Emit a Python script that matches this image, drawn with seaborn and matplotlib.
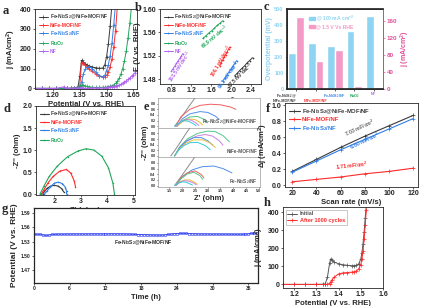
import matplotlib
matplotlib.use("Agg")
import matplotlib.pyplot as plt
from matplotlib.patches import Patch
import seaborn as sns
import numpy as np

sns.set_theme(style="ticks")
plt.rcParams["font.family"] = ["Liberation Sans", "DejaVu Sans"]
plt.rcParams["font.weight"] = "bold"
plt.rcParams["axes.labelweight"] = "bold"
plt.rcParams["mathtext.default"] = "regular"

# ---------------- data ----------------
names = ["Fe-Ni$_3$S$_2$@NiFe-MOF/NF", "NiFe-MOF/NF", "Fe-Ni$_3$S$_2$/NF", "RuO$_2$", "NF"]

# a: LSV curves (potential grid, each curve stops once it leaves the plot)
a_v = [1.10, 1.14, 1.18, 1.22, 1.26, 1.28, 1.30, 1.32, 1.34, 1.35, 1.36, 1.37, 1.38, 1.39,
       1.40, 1.42, 1.44, 1.46, 1.48, 1.49, 1.50, 1.51, 1.52, 1.53, 1.54, 1.55, 1.56, 1.57,
       1.58, 1.59, 1.60, 1.61, 1.62, 1.63, 1.64, 1.65, 1.66, 1.67]
a_fens = [0, 0, 0, 0, 0, 0, 1, 2, 8, 60, 142, 132, 125, 119, 114, 108, 104, 101, 103, 118,
          160, 225, 315, 425]
a_mof = [0, 0, 0, 0, 0, 0, 0, 1, 3, 12, 130, 126, 117, 108, 100, 86, 72, 61, 56, 58,
         66, 82, 110, 150, 210, 290, 410]
a_ns = [0, 0, 0, 0, 0, 0, 0, 1, 2, 5, 30, 72, 96, 107, 110, 100, 82, 65, 58, 66,
        90, 120, 165, 230, 320, 425]
a_ruo2 = [0, 0, 0, 0, 0, 0, 1, 2, 4, 10, 18, 15, 12, 10, 8, 6, 5, 5, 6, 6, 7, 9, 11, 14,
          18, 25, 35, 50, 72, 100, 140, 190, 255, 330, 420]
a_nf = [0, 0, 0, 0, 8, 1, 1, 1, 1, 1, 1, 1, 1, 1, 2, 2, 2, 2, 3, 3, 4, 5, 6, 7, 9, 11,
        14, 17, 21, 26, 32, 38, 45, 53, 61, 70, 80, 92]

# b: Tafel segments
b_fens_x = [2.07, 2.12, 2.17, 2.22, 2.27, 2.32, 2.37, 2.43]
b_fens_y = [1.486, 1.490, 1.495, 1.499, 1.503, 1.508, 1.512, 1.517]
b_mof_x = [1.77, 1.80, 1.83, 1.86, 1.89, 1.92, 1.95, 1.97]
b_mof_y = [1.503, 1.508, 1.513, 1.518, 1.522, 1.527, 1.532, 1.535]
b_ns_x = [1.83, 1.87, 1.91, 1.95, 1.99, 2.03, 2.07, 2.11]
b_ns_y = [1.477, 1.482, 1.487, 1.492, 1.497, 1.502, 1.507, 1.512]
b_ruo2_x = [1.43, 1.49, 1.55, 1.61, 1.66, 1.72, 1.78, 1.83]
b_ruo2_y = [1.550, 1.554, 1.559, 1.563, 1.567, 1.572, 1.576, 1.580]
b_nf_x = [0.80, 0.83, 0.87, 0.90, 0.93, 0.97, 1.00, 1.03]
b_nf_y = [1.494, 1.498, 1.503, 1.507, 1.511, 1.516, 1.520, 1.524]
b_slopes = ["67.5", "106.1", "96.1", "68.9", "103.5"]

# c: bars
c_labels = ["Fe-Ni$_3$S$_2$@\nNiFe-MOF/NF", "NiFe-MOF/NF", "Fe-Ni$_3$S$_2$/NF", "RuO$_2$", "NF"]
c_eta = [225, 287, 269, 362, 456]
c_j = [169, 66, 92, 7, 5]

# d: Nyquist
d_fens_x = [1.55, 1.62, 1.72, 1.85, 2.00, 2.15, 2.28, 2.35]
d_fens_y = [0.00, 0.06, 0.13, 0.18, 0.20, 0.18, 0.12, 0.05]
d_mof_x = [1.50, 1.60, 1.75, 1.95, 2.20, 2.45, 2.62, 2.75, 2.80]
d_mof_y = [0.00, 0.10, 0.25, 0.40, 0.52, 0.56, 0.48, 0.30, 0.17]
d_ns_x = [1.62, 1.72, 1.85, 2.00, 2.15, 2.30, 2.42, 2.46, 2.46]
d_ns_y = [0.00, 0.07, 0.17, 0.25, 0.27, 0.24, 0.15, 0.06, 0.00]
d_ruo2_x = [1.45, 1.60, 1.80, 2.10, 2.50, 2.90, 3.20, 3.50, 3.80, 4.05, 4.22, 4.28]
d_ruo2_y = [0.00, 0.18, 0.40, 0.63, 0.85, 0.98, 1.03, 1.00, 0.86, 0.60, 0.25, 0.00]

# e: Nyquist at several potentials, three samples
e_top = [
    ("k", [1.70, 1.95, 2.20, 2.45, 2.70], [0.00, 0.30, 0.62, 0.94, 1.25]),
    ("r", [1.75, 1.95, 2.30, 2.70, 3.10, 3.50, 3.90, 4.10], [0.00, 0.34, 0.60, 0.74, 0.78, 0.76, 0.68, 0.60]),
    ("b", [1.80, 2.00, 2.30, 2.70, 3.00, 3.30, 3.45], [0.00, 0.26, 0.44, 0.52, 0.49, 0.36, 0.24]),
    ("g", [1.80, 2.00, 2.30, 2.60, 2.85, 3.00], [0.00, 0.20, 0.33, 0.35, 0.25, 0.12]),
    ("y", [1.80, 2.00, 2.25, 2.50, 2.70, 2.80], [0.00, 0.16, 0.26, 0.24, 0.13, 0.05]),
    ("p", [1.75, 1.95, 2.15, 2.35, 2.55, 2.65], [0.00, 0.15, 0.24, 0.22, 0.11, 0.03]),
    ("c", [1.70, 1.90, 2.05, 2.25, 2.45, 2.55], [0.00, 0.13, 0.20, 0.18, 0.08, 0.02]),
]
e_mid = [
    ("k", [1.55, 1.75, 1.95, 2.15, 2.35], [0.00, 0.25, 0.52, 0.80, 1.05]),
    ("g", [1.70, 1.90, 2.20, 2.60, 3.00, 3.30, 3.60, 3.85], [0.00, 0.32, 0.60, 0.80, 0.88, 0.86, 0.72, 0.50]),
    ("p", [1.70, 1.90, 2.20, 2.55, 2.90, 3.20, 3.45, 3.60], [0.00, 0.29, 0.54, 0.70, 0.76, 0.70, 0.54, 0.38]),
    ("b", [1.70, 1.90, 2.15, 2.45, 2.75, 3.00, 3.20], [0.00, 0.30, 0.52, 0.65, 0.65, 0.54, 0.38]),
    ("y", [1.70, 1.90, 2.15, 2.45, 2.80, 3.10, 3.30], [0.00, 0.26, 0.46, 0.57, 0.57, 0.46, 0.30]),
    ("c", [1.70, 1.85, 2.05, 2.30, 2.60, 2.90, 3.10], [0.00, 0.20, 0.36, 0.47, 0.48, 0.37, 0.22]),
]
e_bot = [
    ("k", [1.70, 1.90, 2.10, 2.30, 2.50], [0.00, 0.25, 0.50, 0.76, 1.02]),
    ("b", [1.75, 2.00, 2.40, 2.80, 3.25, 3.60, 3.95], [0.00, 0.32, 0.56, 0.67, 0.69, 0.60, 0.45]),
    ("r", [1.75, 1.95, 2.20, 2.50, 2.75, 2.85], [0.00, 0.27, 0.45, 0.52, 0.39, 0.27]),
    ("g", [1.75, 1.95, 2.20, 2.45, 2.70, 2.80], [0.00, 0.24, 0.41, 0.47, 0.35, 0.22]),
    ("y", [1.75, 1.90, 2.10, 2.30, 2.50, 2.60], [0.00, 0.13, 0.20, 0.20, 0.11, 0.04]),
    ("p", [1.75, 1.90, 2.05, 2.25, 2.45, 2.55], [0.00, 0.11, 0.17, 0.16, 0.09, 0.03]),
    ("c", [1.70, 1.85, 2.00, 2.15, 2.30, 2.40], [0.00, 0.09, 0.13, 0.12, 0.06, 0.02]),
]
e_names = ["Fe-Ni$_3$S$_2$@NiFe-MOF/NF", "NiFe-MOF/NF", "Fe-Ni$_3$S$_2$/NF"]

# f: double-layer capacitance
f_rate = [20, 40, 60, 80, 100, 120]
f_fens = [0.17, 0.32, 0.47, 0.61, 0.74, 0.87]
f_mof = [0.04, 0.07, 0.10, 0.14, 0.17, 0.21]
f_ns = [0.16, 0.30, 0.44, 0.57, 0.70, 0.83]
f_cdl = ["7.03", "1.71", "6.80"]

# g: chronopotentiometry, one reading every half hour
g_v = [1.5460, 1.5458, 1.5455, 1.5443, 1.5432, 1.5440, 1.5452, 1.5456, 1.5458, 1.5460,
       1.5459, 1.5461, 1.5460, 1.5462, 1.5461, 1.5462, 1.5463, 1.5462, 1.5463, 1.5464,
       1.5463, 1.5464, 1.5463, 1.5464, 1.5465, 1.5464, 1.5465, 1.5464, 1.5465, 1.5464,
       1.5463, 1.5462, 1.5460, 1.5457, 1.5454, 1.5451, 1.5449, 1.5447, 1.5445, 1.5443,
       1.5441, 1.5440, 1.5439, 1.5440, 1.5444, 1.5452, 1.5460, 1.5467, 1.5472, 1.5475,
       1.5476, 1.5474, 1.5470, 1.5467, 1.5465, 1.5463, 1.5462, 1.5461, 1.5462, 1.5461,
       1.5460, 1.5461, 1.5460, 1.5459, 1.5460, 1.5459, 1.5458, 1.5459, 1.5458, 1.5457,
       1.5458, 1.5460, 1.5466, 1.5476, 1.5482, 1.5481]
g_t = np.arange(len(g_v)) * 0.5

# h: LSV before / after cycling
h_v = [1.15, 1.20, 1.25, 1.30, 1.33, 1.34, 1.35, 1.36, 1.365, 1.37, 1.38, 1.40, 1.42,
       1.44, 1.46, 1.47, 1.48, 1.49, 1.50, 1.505, 1.51, 1.515, 1.52, 1.525]
h_init = [0, 0, 0, 0, 1, 3, 40, 120, 142, 133, 124, 115, 109, 106, 104, 104, 106, 112,
          140, 175, 225, 290, 370, 440]
h_after = [0, 0, 0, 0, 0, 0, 1, 5, 15, 25, 40, 58, 64, 66, 68, 70, 74, 85, 110, 140,
           185, 250, 330, 415]

# ---------------- styles ----------------
cols = ["#3a3a3a", "#ff2a2a", "#2f7fe6", "#22a65a", "#b060f0"]
cyan, pink = "#8fd4f2", "#f49ac6"
e_pal = {"k": "#8c8c8c", "r": "#f06060", "b": "#4f8fe8", "g": "#55c88a",
         "y": "#e8c23a", "p": "#cf7fe0", "c": "#35c9d8"}

fig = plt.figure(figsize=(4.22, 3.06), dpi=100)
W, H = 422.0, 306.0


def panel(l, t, r, b, fs=5):
    ax = fig.add_axes([l / W, 1 - b / H, (r - l) / W, (b - t) / H])
    ax.tick_params(labelsize=fs, length=1.5, width=0.5, pad=1)
    for s in ax.spines.values():
        s.set_linewidth(0.6)
    return ax


def letter(x, y, s):
    fig.text(x / W, 1 - y / H, s, fontsize=9, fontweight="bold",
             family="Liberation Serif", va="top", ha="left")


def line(ax, x, y, color, label=None, marker="+", ms=2.2, lw=0.7):
    sns.lineplot(x=x, y=y, ax=ax, color=color, lw=lw, marker=marker, ms=ms,
                 mew=0.5, mec=color, label=label, estimator=None, sort=False)


def legend(ax, colors, fs=3.6, **kw):
    leg = ax.legend(frameon=False, fontsize=fs, labelcolor=colors, handlelength=1.8,
                    handletextpad=0.4, borderaxespad=0.3, labelspacing=0.25, **kw)
    return leg


# ---- a ----
ax = panel(35, 9, 137, 89)
for y, c, n in zip([a_fens, a_mof, a_ns, a_ruo2, a_nf], cols, names):
    line(ax, a_v[:len(y)], y, c, n)
ax.set_xlim(1.1, 1.67)
ax.set_ylim(-3, 400)
ax.set_xticks([1.2, 1.35, 1.5, 1.65], ["1.20", "1.35", "1.50", "1.65"])
ax.set_yticks([0, 100, 200, 300, 400])
ax.set_xlabel("Potential (V vs. RHE)", fontsize=5.5, labelpad=1)
ax.set_ylabel("j (mA/cm$^2$)", fontsize=5.5, labelpad=1)
legend(ax, cols, loc="upper left")
letter(3, 5, "a")

# ---- b ----
ax = panel(160, 9, 261, 84)
bx = [b_fens_x, b_mof_x, b_ns_x, b_ruo2_x, b_nf_x]
by = [b_fens_y, b_mof_y, b_ns_y, b_ruo2_y, b_nf_y]
for x, y, c, n in zip(bx, by, cols, names):
    line(ax, x, y, c, n, ms=2.0)
ax.set_xlim(0.57, 2.6)
ax.set_ylim(1.472, 1.60)
ax.set_xticks([0.8, 1.2, 1.6, 2.0, 2.4])
ax.set_yticks([1.48, 1.52, 1.56, 1.60])
ax.set_xlabel("log (j/mA cm$^{-2}$)", fontsize=5.5, labelpad=1)
ax.set_ylabel("E (V vs. RHE)", fontsize=5.5, labelpad=1)
legend(ax, cols, loc="upper left")
b_pos = [(2.18, 1.488, 45), (1.80, 1.511, 60), (1.95, 1.487, 55), (1.67, 1.553, 40), (0.97, 1.502, 57)]
for (px, py, rot), c, s in zip(b_pos, cols, b_slopes):
    ax.text(px, py, s + " mV dec$^{-1}$", color=c, fontsize=3.4, rotation=rot,
            ha="center", va="center")
letter(135, 2, "b")

# ---- c ----
ax = panel(287, 9, 383, 89, fs=4)
xc = np.arange(len(c_eta))
ax.bar(xc - 0.2, c_eta, width=0.4, color=cyan)
ax.set_ylim(0, 500)
ax.set_xlim(-0.47, 4.48)
ax.set_yticks([0, 100, 200, 300, 400, 500])
ax.tick_params(axis="y", colors=cyan, labelcolor=cyan)
ax.set_ylabel("Overpotential (mV)", fontsize=5, color=cyan, labelpad=1)
ax.set_xticks(xc)
ax.set_xticklabels(c_labels, fontsize=2.7, linespacing=0.9)
for i, (t, c) in enumerate(zip(ax.get_xticklabels(), cols)):
    t.set_color(c)
    if i == 0:
        t.set_ha("right")
        t.set_x(t.get_position()[0] + 0.25)
ax.xaxis.get_major_ticks()[1].set_pad(5.4)
ax2 = ax.twinx()
ax2.bar(xc + 0.2, c_j, width=0.4, color=pink)
ax2.set_ylim(0, 188)
ax2.set_yticks([0, 40, 80, 120, 160])
ax2.tick_params(labelsize=4.5, length=1.5, width=0.5, pad=1, colors="#e0509a")
ax2.spines["right"].set_color("#e0509a")
ax2.spines["right"].set_linewidth(0.6)
ax2.set_ylabel("j (mA/cm$^2$)", fontsize=5, color="#e0509a", labelpad=1)
ax2.legend(handles=[Patch(color=cyan, label="@ 100 mA cm$^{-2}$"),
                    Patch(color=pink, label="@ 1.5 V Vs RHE")],
           frameon=False, fontsize=3.6, labelcolor=[cyan, pink], loc="upper left",
           bbox_to_anchor=(0.18, 1.0), handlelength=1.2, handleheight=0.6,
           handletextpad=0.3, labelspacing=0.2)
letter(264, 1, "c")

# ---- d ----
ax = panel(36, 106, 135, 195)
dx = [d_fens_x, d_mof_x, d_ns_x, d_ruo2_x]
dy = [d_fens_y, d_mof_y, d_ns_y, d_ruo2_y]
for x, y, c, n in zip(dx, dy, cols, names):
    line(ax, x, y, c, n, marker=".", ms=1.2, lw=0.8)
ax.set_xlim(1.3, 5.06)
ax.set_ylim(-0.02, 2.0)
ax.set_xticks([2, 3, 4, 5])
ax.set_yticks([0, 0.5, 1.0, 1.5, 2.0])
ax.set_xlabel("Z' (ohm)", fontsize=5.5, labelpad=1)
ax.set_ylabel("-Z'' (ohm)", fontsize=5.5, labelpad=1)
legend(ax, cols[:4], loc="upper left")
letter(3, 103, "d")

# ---- e ----
e_axes = []
tops = [98, 127.7, 157.3]
for i, (arcs, nm) in enumerate(zip([e_top, e_mid, e_bot], e_names)):
    ax = panel(158, tops[i], 260, tops[i] + 29.7, fs=2.6)
    for key, x, y in arcs:
        line(ax, x, y, e_pal[key], marker=None, lw=0.7)
    ax.set_xlim(1.05, 5.05)
    ax.set_ylim(-0.05, 1.0)
    ax.set_yticks([0.0, 0.2, 0.4, 0.6, 0.8])
    ax.set_xticks([1.5, 2.0, 2.5, 3.0, 3.5, 4.0, 4.5, 5.0])
    ax.tick_params(length=1, pad=0.8)
    for s in ax.spines.values():
        s.set_color("#9a9a9a")
        s.set_linewidth(0.5)
    ax.text(4.95, 0.15, nm, fontsize=3.4, color="#555555", ha="right", va="center")
    if i < 2:
        ax.set_xticklabels([])
    if i == 1:
        ax.set_ylabel("-Z'' (ohm)", fontsize=5.5, labelpad=1)
    e_axes.append(ax)
e_axes[-1].set_xlabel("Z' (ohm)", fontsize=5.5, labelpad=1)
letter(144, 101, "e")

# ---- f ----
ax = panel(285, 103, 418, 187)
for y, c, n in zip([f_fens, f_mof, f_ns], cols[:3], names[:3]):
    line(ax, f_rate, y, c, n, ms=2.5, lw=0.8)
ax.set_xlim(14, 124)
ax.set_ylim(-0.025, 1.025)
ax.set_xticks([20, 40, 60, 80, 100, 120])
ax.set_yticks([0, 0.2, 0.4, 0.6, 0.8, 1.0])
ax.set_xlabel("Scan rate (mV/s)", fontsize=5.5, labelpad=1)
ax.set_ylabel(r"$\Delta$j (mA/cm$^2$)", fontsize=5.5, labelpad=1)
legend(ax, cols[:3], fs=4.2, loc="upper left")
f_pos = [(76, 0.71, 25), (69, 0.245, 6), (80, 0.55, 25)]
f_col = ["#6a6a6a", cols[1], cols[2]]
for (px, py, rot), c, s in zip(f_pos, f_col, f_cdl):
    ax.text(px, py, s + " mF/cm$^2$", color=c, fontsize=3.8, rotation=rot,
            ha="center", va="center")
letter(266, 103, "f")

# ---- g ----
ax = panel(34, 208, 258, 283, fs=3.6)
sns.lineplot(x=g_t, y=g_v, ax=ax, color="#2233ee", lw=0.5, marker="o", ms=1.8,
             mew=0.4, mec="#2233ee", mfc="none", estimator=None)
ax.set_xlim(0, 37.6)
ax.set_ylim(1.443, 1.601)
ax.set_xticks([0, 6, 12, 18, 24, 30, 36])
ax.set_yticks([1.47, 1.50, 1.53, 1.56, 1.59])
for s in ax.spines.values():
    s.set_linewidth(0.9)
ax.text(18.3, 1.5286, "Fe-Ni$_3$S$_2$@NiFe-MOF/NF", fontsize=3.6, ha="center", va="center")
ax.set_xlabel("Time (h)", fontsize=5.5, labelpad=1.5)
ax.set_ylabel("Potential (V vs. RHE)", fontsize=6, labelpad=2)
letter(2, 203, "g")

# ---- h ----
ax = panel(283, 207, 383, 288)
line(ax, h_v, h_init, "#555555", "Initial", ms=2.2)
line(ax, h_v, h_after, "#ff2a2a", "After 1000 cycles", ms=2.2)
ax.set_xlim(1.15, 1.6)
ax.set_ylim(-20, 430)
ax.set_xticks([1.2, 1.3, 1.4, 1.5, 1.6])
ax.set_yticks([0, 100, 200, 300, 400])
ax.set_xlabel("Potential (V vs. RHE)", fontsize=5.5, labelpad=1)
ax.set_ylabel("j (mA/cm$^2$)", fontsize=5.5, labelpad=1)
lg = ax.legend(fontsize=4, labelcolor=["#555555", "#ff2a2a"], loc="upper left",
               handlelength=1.8, handletextpad=0.4, labelspacing=0.25, fancybox=False,
               edgecolor="#888888", borderpad=0.3)
lg.get_frame().set_linewidth(0.4)
letter(264, 197, "h")

fig.savefig("out.png", dpi=100)
